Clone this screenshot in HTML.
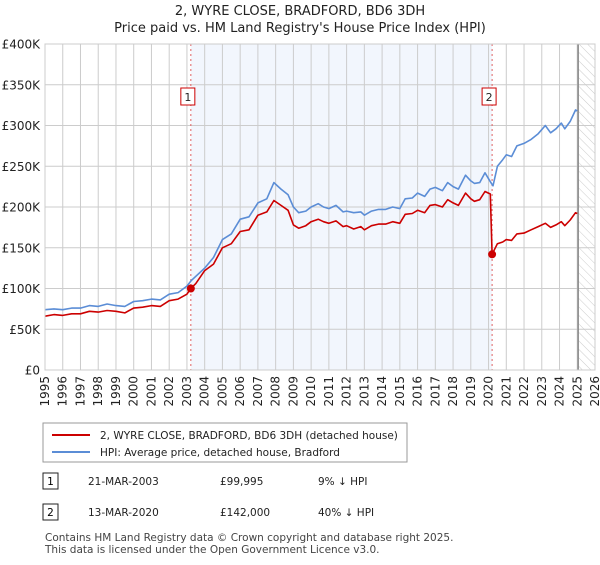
<!DOCTYPE html>
<html><head><meta charset="utf-8"><style>
body{margin:0;background:#fff;font-family:"Liberation Sans","DejaVu Sans",sans-serif;}
svg text{font-family:"DejaVu Sans","Liberation Sans",sans-serif;}
</style></head><body>
<svg id="chart" width="600" height="560" viewBox="0 0 600 560">
<defs><pattern id="hatch" width="6" height="6" patternUnits="userSpaceOnUse" patternTransform="rotate(-45)"><line x1="0" y1="0" x2="0" y2="6" stroke="#ccc" stroke-width="1"/></pattern></defs>
<text x="300" y="15" text-anchor="middle" font-size="13" fill="#222">2, WYRE CLOSE, BRADFORD, BD6 3DH</text>
<text x="300" y="32" text-anchor="middle" font-size="13" fill="#222">Price paid vs. HM Land Registry's House Price Index (HPI)</text>
<g id="plot"></g>
<rect x="43" y="423" width="364" height="39" fill="#fff" stroke="#999"/>
<line x1="52" y1="435" x2="90" y2="435" stroke="#cc0000" stroke-width="2"/>
<text x="100" y="439" font-size="10.5" fill="#222">2, WYRE CLOSE, BRADFORD, BD6 3DH (detached house)</text>
<line x1="52" y1="452" x2="90" y2="452" stroke="#5b8dd6" stroke-width="2"/>
<text x="100" y="456" font-size="10.5" fill="#222">HPI: Average price, detached house, Bradford</text>
<g>
<rect x="43" y="473" width="15" height="16" fill="#fff" stroke="#222"/><text x="50.5" y="485" text-anchor="middle" font-size="10.5">1</text>
<text x="88" y="485" font-size="10.5" fill="#222">21-MAR-2003</text>
<text x="220" y="485" font-size="10.5" fill="#222">£99,995</text>
<text x="318" y="485" font-size="10.5" fill="#222">9% ↓ HPI</text></g>
<g>
<rect x="43" y="504" width="15" height="16" fill="#fff" stroke="#222"/><text x="50.5" y="516" text-anchor="middle" font-size="10.5">2</text>
<text x="88" y="516" font-size="10.5" fill="#222">13-MAR-2020</text>
<text x="220" y="516" font-size="10.5" fill="#222">£142,000</text>
<text x="318" y="516" font-size="10.5" fill="#222">40% ↓ HPI</text></g>
<text x="45" y="541" font-size="10.5" fill="#444">Contains HM Land Registry data © Crown copyright and database right 2025.</text>
<text x="45" y="553" font-size="10.5" fill="#444">This data is licensed under the Open Government Licence v3.0.</text>
</svg>
<script>
const yTicks=[0,50000,100000,150000,200000,250000,300000,350000,400000];
const yTickLabels=["£0","£50K","£100K","£150K","£200K","£250K","£300K","£350K","£400K"];
const xYears=[1995,1996,1997,1998,1999,2000,2001,2002,2003,2004,2005,2006,2007,2008,2009,2010,2011,2012,2013,2014,2015,2016,2017,2018,2019,2020,2021,2022,2023,2024,2025,2026];
const hpiDates=[1995,1995.5,1996,1996.5,1997,1997.5,1998,1998.5,1999,1999.5,2000,2000.5,2001,2001.5,2002,2002.5,2003,2003.25,2003.5,2004,2004.5,2005,2005.5,2006,2006.5,2007,2007.5,2007.9,2008.3,2008.7,2009,2009.3,2009.7,2010,2010.4,2010.7,2011,2011.4,2011.8,2012,2012.4,2012.8,2013,2013.4,2013.8,2014.2,2014.6,2015,2015.3,2015.7,2016,2016.4,2016.7,2017,2017.4,2017.7,2018,2018.3,2018.7,2019,2019.2,2019.5,2019.8,2020.1,2020.25,2020.5,2020.8,2021,2021.3,2021.6,2022,2022.4,2022.8,2023.2,2023.5,2023.8,2024.1,2024.3,2024.6,2024.9,2025.0];
const hpiValues=[74000,75000,74000,76000,76000,79000,78000,81000,79000,78000,84000,85000,87000,86000,93000,95000,103000,110000,115000,125000,138000,160000,167000,185000,188000,205000,210000,230000,222000,215000,200000,193000,195000,200000,204000,200000,198000,202000,194000,195000,193000,194000,190000,195000,197000,197000,200000,198000,210000,211000,217000,213000,222000,224000,220000,230000,225000,222000,239000,232000,229000,230000,242000,231000,226000,250000,258000,264000,262000,275000,278000,283000,290000,300000,291000,296000,303000,296000,305000,319000,318000];
const priceDates=[1995,1995.5,1996,1996.5,1997,1997.5,1998,1998.5,1999,1999.5,2000,2000.5,2001,2001.5,2002,2002.5,2003,2003.22,2003.5,2004,2004.5,2005,2005.5,2006,2006.5,2007,2007.5,2007.9,2008.3,2008.7,2009,2009.3,2009.7,2010,2010.4,2010.7,2011,2011.4,2011.8,2012,2012.4,2012.8,2013,2013.4,2013.8,2014.2,2014.6,2015,2015.3,2015.7,2016,2016.4,2016.7,2017,2017.4,2017.7,2018,2018.3,2018.7,2019,2019.2,2019.5,2019.8,2020.1,2020.2,2020.5,2020.8,2021,2021.3,2021.6,2022,2022.4,2022.8,2023.2,2023.5,2023.8,2024.1,2024.3,2024.6,2024.9,2025.0];
const priceValues=[66000,68000,67000,69000,69000,72000,71000,73000,72000,70000,76000,77000,79000,78000,85000,87000,93000,99995,106000,122000,130000,150000,155000,170000,172000,190000,194000,208000,202000,196000,178000,174000,177000,182000,185000,182000,180000,183000,176000,177000,173000,176000,172000,177000,179000,179000,182000,180000,191000,192000,196000,193000,202000,203000,200000,209000,205000,202000,217000,210000,207000,209000,219000,216000,142000,155000,157000,160000,159000,167000,168000,172000,176000,180000,175000,178000,182000,177000,184000,193000,192000];
const sales=[{n:"1",d:2003.22,v:99995},{n:"2",d:2020.2,v:142000}];
const X0=45,X1=595,Y0=370,Y1=44;
const xs=d=>X0+(d-1995)/(2026-1995)*(X1-X0);
const ys=v=>Y0-v/400000*(Y0-Y1);
const NS="http://www.w3.org/2000/svg";
const plot=document.getElementById('plot');
function mk(t,a,p){const e=document.createElementNS(NS,t);for(const k in a)e.setAttribute(k,a[k]);(p||plot).appendChild(e);return e;}
let r=mk('rect',{x:xs(2003.22),y:Y1,width:xs(2020.2)-xs(2003.22),height:Y0-Y1,fill:'#f2f6fd'});


let h=mk('rect',{x:xs(2025.05),y:Y1,width:X1-xs(2025.05),height:Y0-Y1,fill:'url(#hatch)'});


yTicks.forEach((t,i)=>{
 let l=mk('line',{x1:X0,x2:X1,y1:ys(t),y2:ys(t),stroke:'#ccc','stroke-width':1});
 
 
 let tx=mk('text',{x:40,y:ys(t)+4.5,'text-anchor':'end','font-size':'12',fill:'#222'});
 tx.textContent=yTickLabels[i];
 
 
});
xYears.forEach(y=>{
 let l=mk('line',{x1:xs(y),x2:xs(y),y1:Y1,y2:Y0,stroke:'#ccc','stroke-width':1});
 
 
 let tx=mk('text',{x:0,y:0,'text-anchor':'end','font-size':'12',fill:'#222',transform:`translate(${xs(y)+4},376) rotate(-90)`});
 tx.textContent=y;
 
 
});
let vl=mk('line',{x1:xs(2025.05),x2:xs(2025.05),y1:Y1,y2:Y0,stroke:'#888','stroke-width':1.5});


sales.forEach(s=>{
 let l=mk('line',{x1:xs(s.d),x2:xs(s.d),y1:Y1,y2:Y0,stroke:'#e06060','stroke-dasharray':'2,3','stroke-width':1});
 
 
});
function line(ds,vs,c,name){
 const p=mk('path',{d:ds.map((d,i)=>(i?'L':'M')+xs(d).toFixed(1)+','+ys(vs[i]).toFixed(1)).join(''),fill:'none',stroke:c,'stroke-width':1.6,'stroke-linejoin':'round'});
 
 
}
line(hpiDates,hpiValues,'#5b8dd6','hpi-line');
line(priceDates,priceValues,'#cc0000','price-line');
sales.forEach(s=>{
 let c=mk('circle',{cx:xs(s.d),cy:ys(s.v),r:4,fill:'#cc0000'});
 
 
 let b=mk('rect',{x:xs(s.d)-10,y:88,width:14,height:17,fill:'#fff',stroke:'#cc0000'});
 
 
 let t=mk('text',{x:xs(s.d)-3,y:101,'text-anchor':'middle','font-size':'11',fill:'#222'});
 t.textContent=s.n;
 
 
});
let f=mk('rect',{x:X0,y:Y1,width:X1-X0,height:Y0-Y1,fill:'none',stroke:'#ccc'});


</script>
</body></html>
